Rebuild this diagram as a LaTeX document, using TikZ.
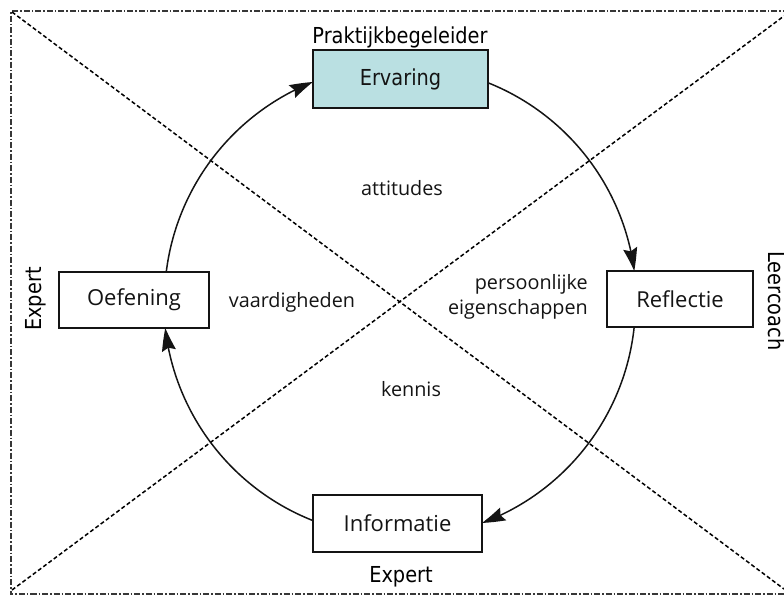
\documentclass[tikz,border=0pt]{standalone}
\usepackage{fontspec}
\setmainfont{Open Sans}
\newfontfamily\tah[FakeStretch=0.88]{DejaVu Sans}
\usetikzlibrary{arrows.meta,bending}
\definecolor{ervfill}{RGB}{186,224,226}
\definecolor{ink}{RGB}{20,20,20}
\begin{document}
\begin{tikzpicture}[x=1pt,y=-1pt,
  box/.style={draw=ink, line width=1.5pt, inner sep=0pt, text=ink, font=\fontsize{22}{26}\selectfont},
  lab/.style={font=\fontsize{19.8}{25}\selectfont, text=ink, inner sep=0pt},
  role/.style={font=\tah\fontsize{22}{26}\selectfont, text=black, inner sep=0pt},
  cyc/.style={draw=ink, line width=1.5pt, -{Stealth[length=23pt,width=14pt,inset=3pt,bend]}},
  frame/.style={draw=ink!85, line width=1.3pt, dash pattern=on 6pt off 2pt on 1.5pt off 2pt},
  diag/.style={draw=black, line width=1.5pt, dash pattern=on 4pt off 2.5pt}]
\useasboundingbox (0,0) rectangle (784,598);
\clip (0,0) rectangle (784,598);
% frame and diagonals
\coordinate (tl) at (11,11);
\coordinate (bl) at (11,594);
\coordinate (brf) at (800,594);
\coordinate (trf) at (800,11);
\draw[frame] (trf) -- (tl) -- (bl) -- (brf);
\coordinate (d1s) at (12,12);
\coordinate (d1e) at (784,589);
\coordinate (d2s) at (12,590);
\coordinate (d2e) at (784,16);
\draw[diag] (d1s) -- (d1e);
\draw[diag] (d2s) -- (d2e);
% boxes
\node[box, fill=ervfill, minimum width=175pt, minimum height=58pt, font=\tah\fontsize{22}{26}\selectfont] (erv) at (400.5,79) {Ervaring};
\node[box, fill=white, minimum width=146pt, minimum height=56pt] (ref) at (680,299) {Reflectie};
\node[box, fill=white, minimum width=150pt, minimum height=56pt] (oef) at (134,300) {Oefening};
\node[box, fill=white, minimum width=169pt, minimum height=57pt] (inf) at (397.5,523.5) {Informatie};
% cycle arcs
\draw[cyc] ([xshift=32.35pt]oef.north) arc[start angle=187.2, end angle=248.3, radius=235.5];
\draw[cyc] ([yshift=-4.05pt]erv.east) arc[start angle=291.94, end angle=352.56, radius=235.5];
\draw[cyc] ([xshift=-45.9pt]ref.south) arc[start angle=6.22, end angle=69.62, radius=235.5];
\draw[cyc] ([yshift=3.2pt]inf.west) arc[start angle=111.68, end angle=173.54, radius=235.5];
% roles
\node[role, anchor=base] (prak) at (400,43) {Praktijkbegeleider};
\node[role, anchor=base] (expb) at (401,582) {Expert};
\node[role, rotate=90, anchor=base] (expl) at (41,299) {Expert};
\node[role, rotate=-90, anchor=base] (lc) at (768,301) {Leercoach};
% inner labels
\node[lab] (att) at (402,188) {attitudes};
\node[lab, align=right, anchor=east] (pers) at (588,297) {persoonlijke\\eigenschappen};
\node[lab] (vaard) at (292,302) {vaardigheden};
\node[lab] (ken) at (411,389) {kennis};
\end{tikzpicture}
\end{document}
